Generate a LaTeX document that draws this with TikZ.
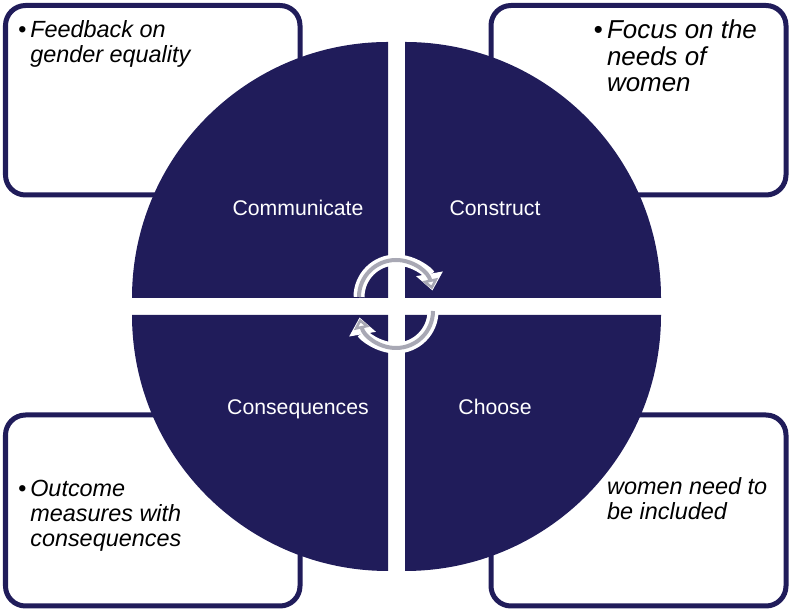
\documentclass[tikz,border=0pt]{standalone}
\usepackage{fontspec}
\setmainfont{Liberation Sans}
\usetikzlibrary{arrows.meta}
\definecolor{navy}{RGB}{32,28,90}
\definecolor{cyclegray}{RGB}{168,168,180}

\begin{document}
\begin{tikzpicture}[x=1bp,y=1bp,
  noteframe/.style={draw=navy,line width=5bp,rounded corners=20bp},
  notetext/.style={anchor=base west,align=left,inner sep=0pt,font=\fontsize{23.5}{25.5}\selectfont\itshape},
  bignotetext/.style={notetext,font=\fontsize{26}{27}\selectfont\itshape},
  steplabel/.style={anchor=base,inner sep=0pt,text=white,font=\fontsize{21.3}{24}\selectfont}]

\def\quadR{256}
\def\gapL{388}
\def\gapR{405}
\def\gapT{313}
\def\gapB{296}
\def\cycleR{37}

\useasboundingbox (0,0) rectangle (791,611);

% note frames
\draw [noteframe] (5.5,416) rectangle (300,605.5);
\draw [noteframe] (491,416) rectangle (786,605.5);
\draw [noteframe] (5.5,5) rectangle (300,196);
\draw [noteframe] (491,5) rectangle (786,196);

% note texts (base = last line)
\node [notetext] (feedback) at (18,548) {•\,Feedback on\\\phantom{•\,}gender equality};
\node [bignotetext] (focus) at (593.5,519) {•\,Focus on the\\\phantom{•\,}needs of\\\phantom{•\,}women};
\node [notetext] (outcome) at (18,64) {•\,Outcome\\\phantom{•\,}measures with\\\phantom{•\,}consequences};
\node [notetext] (included) at (607,91) {women need to\\be included};

% quarters of the circle
\fill [navy] (\gapL,\gapT) -- ++(-\quadR,0) arc [start angle=180, end angle=90, radius=\quadR] -- cycle;
\fill [navy] (\gapR,\gapT) -- ++(0,\quadR) arc [start angle=90, end angle=0, radius=\quadR] -- cycle;
\fill [navy] (\gapL,\gapB) -- ++(0,-\quadR) arc [start angle=270, end angle=180, radius=\quadR] -- cycle;
\fill [navy] (\gapR,\gapB) -- ++(\quadR,0) arc [start angle=0, end angle=-90, radius=\quadR] -- cycle;

% step labels
\node [steplabel] (communicate) at (298,395) {Communicate};
\node [steplabel] (construct) at (495,395) {Construct};
\node [steplabel] (consequences) at (298,196) {Consequences};
\node [steplabel] (choose) at (495,196) {Choose};

% cycle arrows
\coordinate (topc) at (396,314);
\coordinate (botc) at (396,300);
\draw [white, line width=11bp, -{Triangle[length=17bp,width=26bp]}] (topc) ++(180:\cycleR) arc [start angle=180, end angle=10, radius=\cycleR];
\draw [cyclegray, line width=4bp, -{Triangle[open,length=10bp,width=16bp,line width=2.5bp]}] (topc) ++(180:\cycleR) arc [start angle=180, end angle=12, radius=\cycleR];
\draw [white, line width=11bp, -{Triangle[length=17bp,width=26bp]}] (botc) ++(0:\cycleR) arc [start angle=0, end angle=-170, radius=\cycleR];
\draw [cyclegray, line width=4bp, -{Triangle[open,length=10bp,width=16bp,line width=2.5bp]}] (botc) ++(0:\cycleR) arc [start angle=0, end angle=-168, radius=\cycleR];

\end{tikzpicture}
\end{document}
